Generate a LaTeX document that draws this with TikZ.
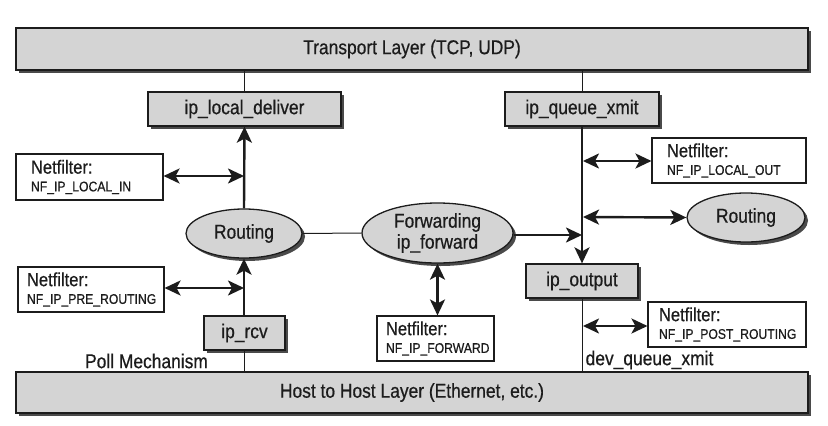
\documentclass[tikz,border=0pt]{standalone}
\usepackage{fontspec}
\setmainfont{Liberation Sans}[FakeStretch=0.87, FakeBold=0.6]
\usetikzlibrary{arrows.meta,shapes.geometric,shadows}
\definecolor{boxgray}{HTML}{D4D4D4}
\definecolor{shadowgray}{HTML}{4A4A4A}
\definecolor{ink}{HTML}{1C1C1C}
\tikzset{
  shad/.style={drop shadow={shadow xshift=3pt, shadow yshift=-3pt, fill=shadowgray, opacity=1}},
  graybox/.style={rectangle, draw=ink, line width=1.3pt, fill=boxgray, inner sep=0pt, shad,
    font=\fontsize{20}{22}\selectfont, text=ink},
  grayell/.style={ellipse, draw=ink, line width=1.3pt, fill=boxgray, inner sep=0pt, shad,
    font=\fontsize{20}{21}\selectfont, text=ink, align=center},
  nfbox/.style={rectangle, draw=ink, line width=1.1pt, fill=white, inner ysep=0pt, align=left,
    font=\fontsize{19}{20}\selectfont, text=ink},
  plain/.style={font=\fontsize{20}{22}\selectfont, text=ink, inner sep=0pt},
  thinline/.style={draw=ink, line width=1pt},
  tip/.tip={Stealth[length=16pt, width=15pt, inset=4pt]},
  thickarr/.style={draw=ink, line width=2.4pt, -tip},
  dblarr/.style={draw=ink, line width=2.4pt, tip-tip},
}
\newcommand{\nfname}[1]{{\fontsize{14}{16}\selectfont #1}}
\begin{document}
\begin{tikzpicture}[x=1pt, y=-1pt]
\useasboundingbox (0,0) rectangle (828,426);
% layers
\node[graybox, minimum width=792pt, minimum height=42pt] (top) at (412,49) {Transport Layer (TCP, UDP)};
\node[graybox, minimum width=792pt, minimum height=41pt] (bot) at (412,392.5) {Host to Host Layer (Ethernet, etc.)};
% function boxes
\node[graybox, minimum width=193pt, minimum height=34pt] (ld) at (244.5,109) {ip\_local\_deliver};
\node[graybox, minimum width=154pt, minimum height=34pt] (qx) at (582,109) {ip\_queue\_xmit};
\node[graybox, minimum width=81pt, minimum height=34pt] (rcv) at (244.5,333) {ip\_rcv};
\node[graybox, minimum width=112pt, minimum height=34pt] (out) at (582,281) {ip\_output};
% ellipses
\node[grayell, minimum width=116pt, minimum height=49pt] (rl) at (244,233.5) {Routing};
\node[grayell, minimum width=151pt, minimum height=60pt] (fw) at (437.5,233) {Forwarding\\ip\_forward};
\node[grayell, minimum width=118pt, minimum height=49pt] (rr) at (746,217.5) {Routing};
% netfilter boxes
\node[nfbox, inner xsep=15pt, text width=117pt, minimum height=46pt] (nfli) at (89.5,177) {Netfilter:\\[-2.3pt]\nfname{NF\_IP\_LOCAL\_IN}};
\node[nfbox, inner xsep=9pt, text width=128pt, minimum height=45pt] (nfpr) at (91,289.5) {Netfilter:\\[-2.3pt]\nfname{NF\_IP\_PRE\_ROUTING}};
\node[nfbox, inner xsep=9pt, text width=99pt, minimum height=45pt] (nffw) at (435.5,338.5) {Netfilter:\\[-2.3pt]\nfname{NF\_IP\_FORWARD}};
\node[nfbox, inner xsep=15pt, text width=124pt, minimum height=45pt] (nflo) at (729,160.5) {Netfilter:\\[-2.3pt]\nfname{NF\_IP\_LOCAL\_OUT}};
\node[nfbox, inner xsep=11pt, text width=136pt, minimum height=45pt] (nfpo) at (727,324.5) {Netfilter:\\[-2.3pt]\nfname{NF\_IP\_POST\_ROUTING}};
% plain labels
\node[plain] (poll) at (146.5,361) {Poll Mechanism};
\node[plain] (dqx) at (649.5,360) {dev\_queue\_xmit};
% junction coordinates
\coordinate (jli) at (244,176);
\coordinate (jpr) at (244,288);
\coordinate (jlo) at (583,161);
\coordinate (jrr) at (583,217);
\coordinate (jfw) at (582,235);
\coordinate (jpo) at (583,326);
% thin lines
\draw[thinline] (top.south -| ld) -- (ld.north);
\draw[thinline] (top.south -| qx) -- (qx.north);
\draw[thinline] (rcv.south) -- (rcv.south |- bot.north);
\draw[thinline] (out.south) -- (out.south |- bot.north);
\draw[thinline] (rl.east) -- (fw.west);
% main flow arrows
\draw[thickarr] (rl.north) -- (ld.south);
\draw[thickarr] (rcv.north -| rl) -- (rl.south);
\draw[thickarr] (qx.south) -- (out.north);
\draw[thickarr] (fw.east |- jfw) -- (jfw);
% netfilter hooks
\draw[dblarr] (nfli.east |- jli) -- (jli);
\draw[dblarr] (nfpr.east |- jpr) -- (jpr);
\draw[dblarr] (jlo) -- (nflo.west |- jlo);
\draw[dblarr] (jrr) -- (rr.west);
\draw[dblarr] (jpo) -- (nfpo.west |- jpo);
\draw[dblarr] (fw.south) -- (nffw.north -| fw.south);
\end{tikzpicture}
\end{document}
